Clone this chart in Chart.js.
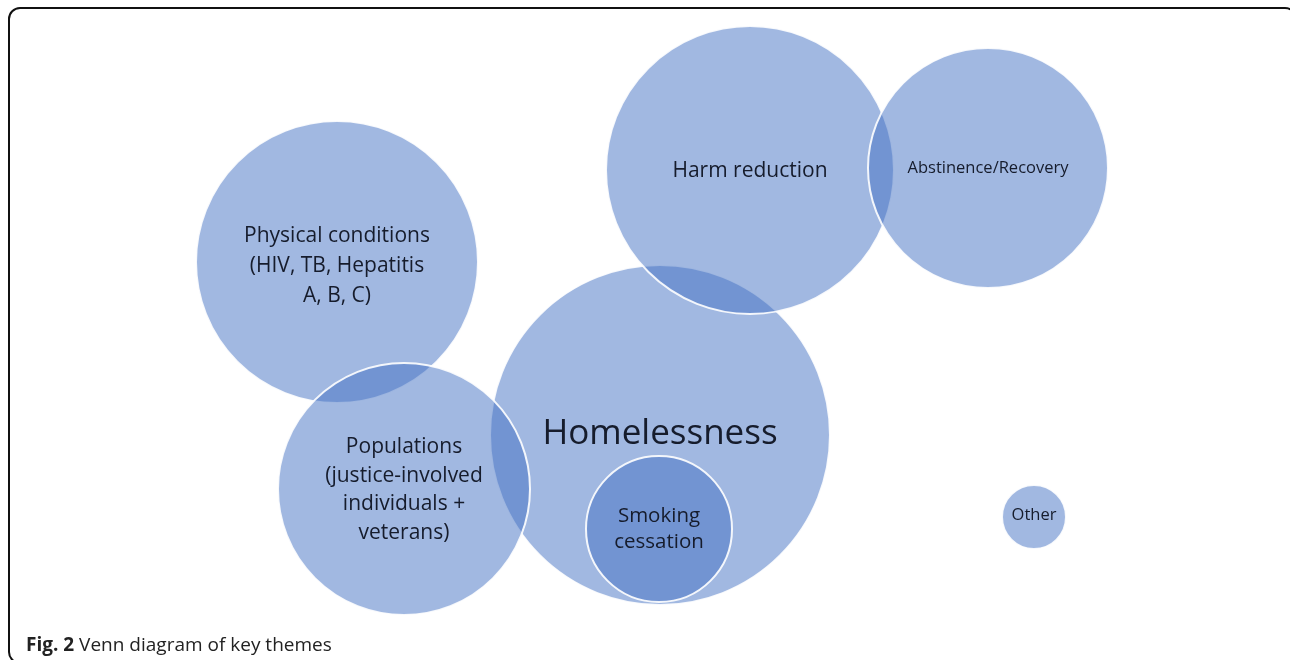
<!DOCTYPE html>
<html>
<head>
<meta charset="utf-8">
<script src="https://cdn.jsdelivr.net/npm/chart.js@4/dist/chart.umd.min.js"></script>
<style>
  html, body { margin: 0; padding: 0; background: #ffffff; }
  #wrap { position: relative; width: 1290px; height: 660px; }
  canvas { display: block; }
</style>
</head>
<body>
<div id="wrap"><canvas id="c" width="1290" height="660"></canvas></div>
<script>
// Themes (drawn in this order so the later circles' white outlines sit on top)
const themes = ["Homelessness", "Physical conditions", "Populations", "Harm reduction", "Abstinence/Recovery", "Smoking cessation", "Other"];
const centerX = [660, 337, 404, 750, 988, 659, 1034];
const centerY = [435, 262, 489, 170, 168, 529, 517];
const radius  = [170, 141, 126, 144, 120, 73, 32];
const labelLines = [
  ["Homelessness"],
  ["Physical conditions", "(HIV, TB, Hepatitis", "A, B, C)"],
  ["Populations", "(justice-involved", "individuals +", "veterans)"],
  ["Harm reduction"],
  ["Abstinence/Recovery"],
  ["Smoking", "cessation"],
  ["Other"]
];
const labelSize = [35, 21, 21, 21, 16.5, 20.5, 16.5];
const labelLineHeight = [40, 30, 28.5, 24, 20, 26.5, 20];
const labelOffsetY = [-1, 4, 1, 1, 0, 0, -2];
const caption = ["Fig. 2", " Venn diagram of key themes"];

const points = themes.map((t, i) => ({ x: centerX[i], y: centerY[i], r: radius[i] }));

const framePlugin = {
  id: 'frame',
  afterDraw(chart) {
    const ctx = chart.ctx;
    ctx.save();
    ctx.strokeStyle = '#111111';
    ctx.lineWidth = 2;
    ctx.beginPath();
    ctx.roundRect(9, 8, 1287, 655, 11);
    ctx.stroke();
    // caption
    ctx.textBaseline = 'alphabetic';
    ctx.textAlign = 'left';
    ctx.fillStyle = '#222222';
    ctx.font = 'bold 19px "Open Sans", sans-serif';
    ctx.fillText(caption[0], 26, 651);
    const w = ctx.measureText(caption[0]).width;
    ctx.font = '19px "Open Sans", sans-serif';
    ctx.fillText(caption[1], 26 + w, 651);
    ctx.restore();
  }
};

const labelPlugin = {
  id: 'labels',
  afterDatasetsDraw(chart) {
    const ctx = chart.ctx;
    const meta = chart.getDatasetMeta(0);
    ctx.save();
    ctx.textAlign = 'center';
    ctx.textBaseline = 'middle';
    ctx.fillStyle = '#161c2c';
    meta.data.forEach((el, i) => {
      const lines = labelLines[i];
      ctx.font = labelSize[i] + 'px "Open Sans", Lato, sans-serif';
      const lh = labelLineHeight[i];
      const y0 = el.y + labelOffsetY[i] - (lines.length - 1) * lh / 2;
      lines.forEach((ln, k) => ctx.fillText(ln, el.x, y0 + k * lh));
    });
    ctx.restore();
  }
};

new Chart(document.getElementById('c'), {
  type: 'bubble',
  data: {
    labels: themes,
    datasets: [{
      label: 'Themes',
      data: points,
      backgroundColor: 'rgba(68,114,196,0.5)',
      borderColor: 'rgba(255,255,255,0.9)',
      borderWidth: 2,
      hoverRadius: 0
    }]
  },
  options: {
    responsive: false,
    devicePixelRatio: 1,
    animation: false,
    layout: { padding: 0, autoPadding: false },
    clip: false,
    plugins: { legend: { display: false }, tooltip: { enabled: false } },
    events: [],
    scales: {
      x: { type: 'linear', min: 0, max: 1290, display: false },
      y: { type: 'linear', min: 0, max: 660, reverse: true, display: false }
    }
  },
  plugins: [labelPlugin, framePlugin]
});
</script>
</body>
</html>
